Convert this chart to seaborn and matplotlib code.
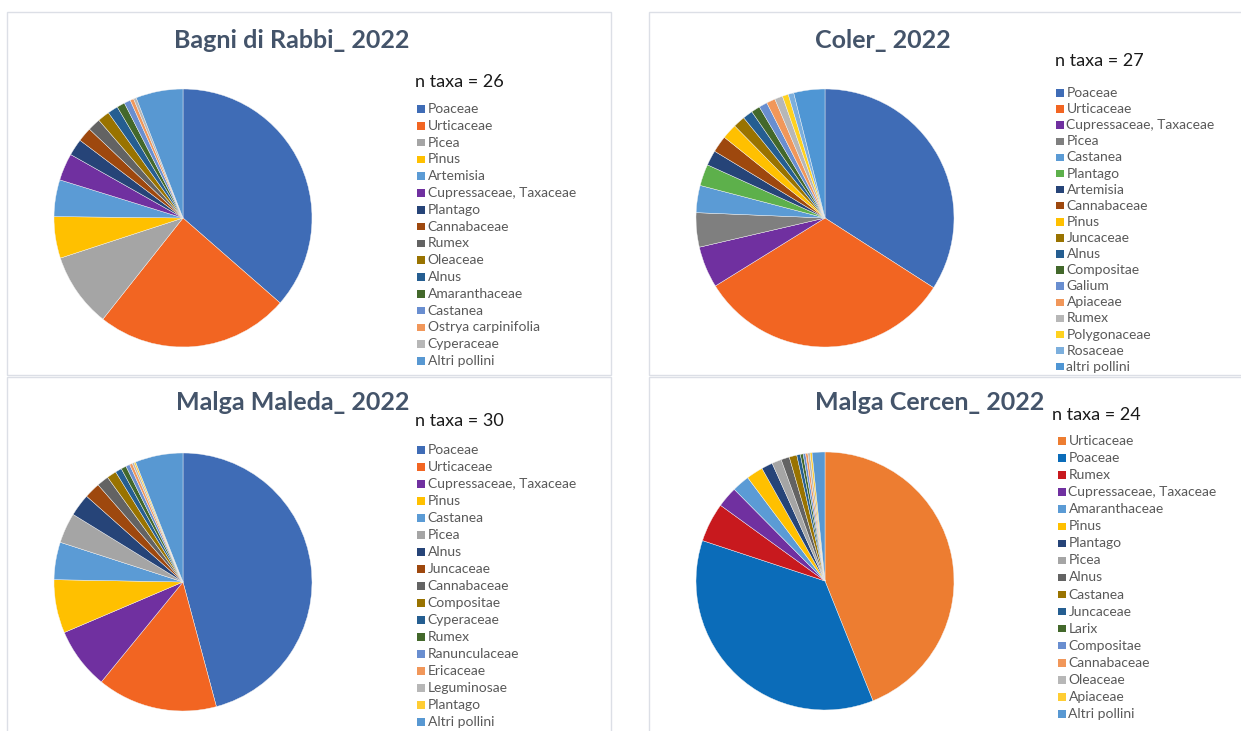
import matplotlib
matplotlib.use("Agg")
import matplotlib.pyplot as plt
from matplotlib.patches import Rectangle
import seaborn as sns

# ---- data: pollen shares (%) per station, 2022 ----
rabbi_taxa = ["Poaceae", "Urticaceae", "Picea", "Pinus", "Artemisia",
              "Cupressaceae, Taxaceae", "Plantago", "Cannabaceae", "Rumex",
              "Oleaceae", "Alnus", "Amaranthaceae", "Castanea",
              "Ostrya carpinifolia", "Cyperaceae", "Altri pollini"]
rabbi_vals = [36.4, 24.2, 9.3, 5.2, 4.6, 3.4, 2.1, 1.8, 1.6, 1.5, 1.3, 1.0,
              0.8, 0.45, 0.35, 5.9]
rabbi_ntaxa = 26

coler_taxa = ["Poaceae", "Urticaceae", "Cupressaceae, Taxaceae", "Picea",
              "Castanea", "Plantago", "Artemisia", "Cannabaceae", "Pinus",
              "Juncaceae", "Alnus", "Compositae", "Galium", "Apiaceae",
              "Rumex", "Polygonaceae", "Rosaceae", "altri pollini"]
coler_vals = [34.1, 32.1, 5.2, 4.3, 3.4, 2.7, 1.9, 2.1, 1.9, 1.5, 1.25, 1.1,
              1.05, 1.1, 1.0, 0.75, 0.7, 3.9]
coler_ntaxa = 27

maleda_taxa = ["Poaceae", "Urticaceae", "Cupressaceae, Taxaceae", "Pinus",
               "Castanea", "Picea", "Alnus", "Juncaceae", "Cannabaceae",
               "Compositae", "Cyperaceae", "Rumex", "Ranunculaceae",
               "Ericaceae", "Leguminosae", "Plantago", "Altri pollini"]
maleda_vals = [45.9, 15.1, 7.7, 6.7, 4.7, 3.8, 2.8, 2.0, 1.5, 1.2, 0.8, 0.65,
               0.5, 0.35, 0.25, 0.2, 6.0]
maleda_ntaxa = 30

cercen_taxa = ["Urticaceae", "Poaceae", "Rumex", "Cupressaceae, Taxaceae",
               "Amaranthaceae", "Pinus", "Plantago", "Picea", "Alnus",
               "Castanea", "Juncaceae", "Larix", "Compositae", "Cannabaceae",
               "Oleaceae", "Apiaceae", "Altri pollini"]
cercen_vals = [43.9, 36.1, 4.9, 2.6, 2.2, 2.1, 1.4, 1.2, 1.05, 0.95, 0.45,
               0.35, 0.3, 0.28, 0.28, 0.25, 1.6]
cercen_ntaxa = 24

# ---- slice colours ----
rabbi_colors = ["#3F6CB6", "#F26522", "#A5A5A5", "#FFC000", "#5B9BD5",
                "#7030A0", "#264478", "#9E480E", "#636363", "#997300",
                "#255E91", "#43682B", "#698ED0", "#F1975A", "#B7B7B7",
                "#5898D2"]
coler_colors = ["#3F6CB6", "#F26522", "#7030A0", "#7F7F7F", "#5B9BD5",
                "#5DB04B", "#264478", "#9E480E", "#FFC000", "#997300",
                "#255E91", "#43682B", "#698ED0", "#F1975A", "#B7B7B7",
                "#FFD21F", "#7CAFDD", "#4F96D4"]
maleda_colors = ["#3F6CB6", "#F26522", "#7030A0", "#FFC000", "#5B9BD5",
                 "#A5A5A5", "#264478", "#9E480E", "#636363", "#997300",
                 "#255E91", "#43682B", "#698ED0", "#F1975A", "#B7B7B7",
                 "#FFCD33", "#5898D2"]
cercen_colors = ["#ED7D31", "#0B6CB9", "#C8191E", "#7030A0", "#5B9BD5",
                 "#FFC000", "#264478", "#A5A5A5", "#636363", "#997300",
                 "#255E91", "#43682B", "#698ED0", "#F1975A", "#B7B7B7",
                 "#FFCD33", "#5898D2"]

sns.set_theme(style="white")
plt.rcParams["font.family"] = ["Lato", "DejaVu Sans"]

W, H = 1241, 731
fig = plt.figure(figsize=(W / 100, H / 100), dpi=100)
fig.patch.set_facecolor("white")


def px_rect(x0, y0, x1, y1):
    return [x0 / W, 1 - y1 / H, (x1 - x0) / W, (y1 - y0) / H]


# panel frames (behind the pies)
for (x0, y0, x1, y1) in [(7, 12, 611, 375), (649, 12, 1250, 375),
                         (7, 377, 611, 740), (649, 377, 1250, 740)]:
    fig.patches.append(Rectangle((x0 / W, 1 - y1 / H), (x1 - x0) / W,
                                 (y1 - y0) / H, transform=fig.transFigure,
                                 facecolor="white", edgecolor="#DCDFE6",
                                 linewidth=1.0, zorder=-5))

panels = [
    dict(title="Bagni di Rabbi_ 2022", taxa=rabbi_taxa, vals=rabbi_vals,
         n=rabbi_ntaxa, colors=rabbi_colors, center=(183, 218), r=129,
         title_xy=(292, 41), n_xy=(415, 82), leg_xy=(417, 109), leg_dy=16.8),
    dict(title="Coler_ 2022", taxa=coler_taxa, vals=coler_vals,
         n=coler_ntaxa, colors=coler_colors, center=(825, 218), r=129,
         title_xy=(883, 41), n_xy=(1055, 61), leg_xy=(1056, 93), leg_dy=16.1),
    dict(title="Malga Maleda_ 2022", taxa=maleda_taxa, vals=maleda_vals,
         n=maleda_ntaxa, colors=maleda_colors, center=(183, 582), r=129,
         title_xy=(293, 403), n_xy=(415, 421), leg_xy=(417, 450), leg_dy=17.0),
    dict(title="Malga Cercen_ 2022", taxa=cercen_taxa, vals=cercen_vals,
         n=cercen_ntaxa, colors=cercen_colors, center=(825, 581), r=129,
         title_xy=(930, 403), n_xy=(1052, 415), leg_xy=(1058, 441), leg_dy=17.06),
]

for p in panels:
    cx, cy = p["center"]
    r = p["r"]
    ax = fig.add_axes(px_rect(cx - r, cy - r, cx + r, cy + r))
    ax.pie(p["vals"], colors=p["colors"], startangle=90, counterclock=False,
           radius=1.0, wedgeprops=dict(linewidth=0.3, edgecolor="#F4F4F4"))
    ax.set_xlim(-1.0, 1.0)
    ax.set_ylim(-1.0, 1.0)
    ax.set_aspect("equal")
    ax.axis("off")

    tx, ty = p["title_xy"]
    fig.text(tx / W, 1 - ty / H, p["title"], ha="center", va="center",
             fontsize=18, fontweight="bold", color="#44546A")
    nx, ny = p["n_xy"]
    fig.text(nx / W, 1 - ny / H, f"n taxa = {p['n']}", ha="left",
             va="center", fontsize=13, color="#1A1A1A")

    lx, ly = p["leg_xy"]
    for i, (name, col) in enumerate(zip(p["taxa"], p["colors"])):
        yy = ly + i * p["leg_dy"]
        s = 7.5
        fig.patches.append(Rectangle((lx / W, 1 - (yy + s / 2) / H), s / W,
                                     s / H, transform=fig.transFigure,
                                     facecolor=col, edgecolor="none"))
        fig.text((lx + 10.5) / W, 1 - yy / H, name, ha="left", va="center",
                 fontsize=10, color="#595959")

fig.savefig("out.png", dpi=100, facecolor="white")
